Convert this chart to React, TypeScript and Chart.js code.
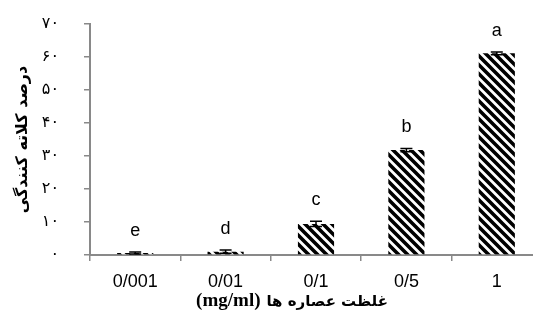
import { useEffect, useRef } from 'react';
import { Chart, registerables } from 'chart.js';

Chart.register(...registerables);

const categories = ['0/001', '0/01', '0/1', '0/5', '1'];
const values = [0.6, 1.0, 9.4, 31.8, 61.1];
const errors = [0.3, 0.5, 0.8, 0.5, 0.45];
const letters = ['e', 'd', 'c', 'b', 'a'];
const yMin = 0;
const yMax = 70;
const yStep = 10;
const yTitle = 'درصد کلاته کنندگی';
const xTitleLatin = '(mg/ml)';
const xTitleArabic = 'غلظت عصاره ها';

const persianDigits = '۰۱۲۳۴۵۶۷۸۹';
const toPersian = (v: number | string) => String(v).replace(/\d/g, (d) => persianDigits[Number(d)]);

function makePattern(): CanvasPattern | string {
  const n = 9;
  const c = document.createElement('canvas');
  c.width = n;
  c.height = n;
  const g = c.getContext('2d');
  if (!g) return '#000';
  g.fillStyle = '#fff';
  g.fillRect(0, 0, n, n);
  g.strokeStyle = '#000';
  g.lineWidth = 3.6;
  g.beginPath();
  g.moveTo(-3, -3);
  g.lineTo(n + 3, n + 3);
  g.moveTo(n - 3, -3);
  g.lineTo(n + 3, 3);
  g.moveTo(-3, n - 3);
  g.lineTo(3, n + 3);
  g.stroke();
  return g.createPattern(c, 'repeat') || '#000';
}

const errPlugin = {
  id: 'errorBarsAndLetters',
  afterDatasetsDraw(chart: any) {
    const ctx = chart.ctx as CanvasRenderingContext2D;
    const meta = chart.getDatasetMeta(0);
    const y = chart.scales.y;
    meta.data.forEach((bar: any, i: number) => {
      const x = bar.x;
      const top = y.getPixelForValue(values[i] + errors[i]);
      const bot = y.getPixelForValue(values[i] - errors[i]);
      ctx.save();
      ctx.strokeStyle = '#000';
      ctx.lineWidth = 1.5;
      ctx.beginPath();
      ctx.moveTo(x, top);
      ctx.lineTo(x, bot);
      ctx.moveTo(x - 6, top);
      ctx.lineTo(x + 6, top);
      ctx.moveTo(x - 6, bot);
      ctx.lineTo(x + 6, bot);
      ctx.stroke();
      ctx.fillStyle = '#000';
      ctx.font = '18px "Liberation Sans", sans-serif';
      ctx.textAlign = 'center';
      ctx.textBaseline = 'alphabetic';
      ctx.fillText(letters[i], x, top - 16);
      ctx.restore();
    });
  },
};

const xTitlePlugin = {
  id: 'xTitleMixed',
  afterDraw(chart: any) {
    const ctx = chart.ctx as CanvasRenderingContext2D;
    const area = chart.chartArea;
    ctx.save();
    const latinFont = 'bold 19px "Liberation Serif", serif';
    const arabicFont = 'bold 15px "DejaVu Sans", sans-serif';
    ctx.font = latinFont;
    const wL = ctx.measureText(xTitleLatin).width;
    ctx.font = arabicFont;
    const wA = ctx.measureText(xTitleArabic).width;
    const gap = 6;
    const total = wL + gap + wA;
    const cx = area.left + (area.right - area.left) * 0.447;
    const baseY = area.bottom + 51;
    let x = cx - total / 2;
    ctx.fillStyle = '#000';
    ctx.textAlign = 'left';
    ctx.textBaseline = 'alphabetic';
    ctx.font = latinFont;
    ctx.fillText(xTitleLatin, x, baseY);
    x += wL + gap;
    ctx.font = arabicFont;
    ctx.fillText(xTitleArabic, x, baseY);
    ctx.restore();
  },
};

export default function App() {
  const ref = useRef<HTMLCanvasElement>(null);
  useEffect(() => {
    if (!ref.current) return;
    const chart = new Chart(ref.current, {
      type: 'bar',
      data: {
        labels: categories,
        datasets: [
          {
            data: values,
            backgroundColor: makePattern() as any,
            borderWidth: 0,
            barPercentage: 0.4,
            categoryPercentage: 1,
          },
        ],
      },
      options: {
        animation: false,
        responsive: false,
        layout: { padding: { left: 8, top: 24, right: 3, bottom: 0 } },
        plugins: { legend: { display: false }, tooltip: { enabled: false } },
        scales: {
          x: {
            afterFit: (s: any) => {
              s.height = 59;
            },
            grid: {
              display: true,
              drawOnChartArea: false,
              drawTicks: true,
              tickLength: 6,
              color: '#898989',
              lineWidth: 1.5,
              offset: true,
            },
            border: { display: true, color: '#898989', width: 2 },
            ticks: {
              color: '#000',
              padding: 10,
              font: { family: '"Liberation Sans", sans-serif', size: 18 },
            },
            title: { display: false },
          },
          y: {
            min: yMin,
            max: yMax,
            afterFit: (s: any) => {
              s.width = 82;
              s.paddingTop = 8;
              s.paddingBottom = 8;
            },
            grid: {
              display: true,
              drawOnChartArea: false,
              drawTicks: true,
              tickLength: 6,
              color: '#898989',
              lineWidth: 1.5,
            },
            border: { display: true, color: '#898989', width: 2 },
            ticks: {
              stepSize: yStep,
              color: '#000',
              padding: 25,
              font: { family: '"DejaVu Sans", sans-serif', size: 16 },
              callback: (v: any) => toPersian(v),
            },
            title: {
              display: true,
              text: yTitle,
              color: '#000',
              padding: { top: 5, bottom: 0 },
              font: { family: '"DejaVu Sans", sans-serif', size: 16, weight: 'bold' },
            },
          },
        },
      },
      plugins: [errPlugin, xTitlePlugin],
    });
    return () => chart.destroy();
  }, []);
  return (
    <div
      style={{
        position: 'fixed',
        left: 0,
        top: 0,
        width: 533,
        height: 314,
        overflow: 'hidden',
        background: '#fff',
      }}
    >
      <canvas ref={ref} width={545} height={314} style={{ display: 'block' }} />
    </div>
  );
}
